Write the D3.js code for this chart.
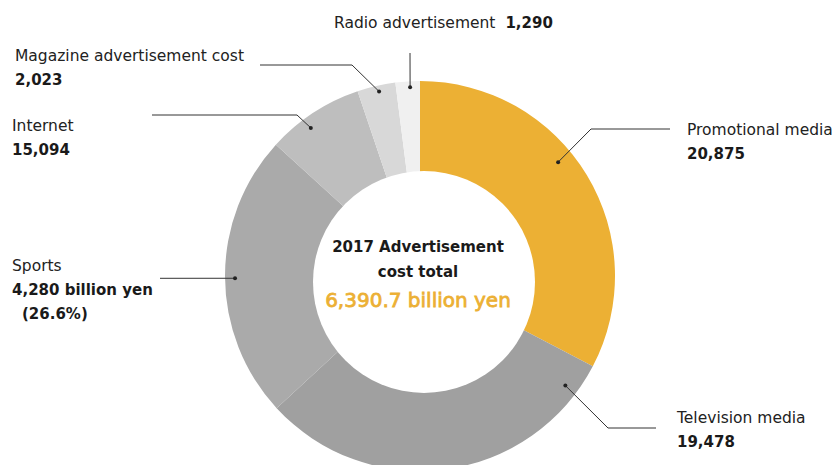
<!DOCTYPE html>
<html>
<head>
<meta charset="utf-8">
<script src="https://cdn.jsdelivr.net/npm/d3@7"></script>
<style>
  html, body { margin: 0; padding: 0; background: #fff; }
  svg { display: block; font-family: "DejaVu Sans", sans-serif; }
</style>
</head>
<body>
<svg id="chart" width="836" height="465"></svg>
<script>
// Slices, clockwise from 12 o'clock
const sliceKeys   = ["promo", "tv", "sports", "internet", "magazine", "radio"];
const sliceValues = [20875, 19478, 15094, 5147, 2023, 1290];
const sliceColors = ["#ECB034", "#A0A0A0", "#AAAAAA", "#BEBEBE", "#D8D8D8", "#F0F0F0"];

// Label text for each slice
const labelNames  = ["Promotional media", "Television media", "Sports", "Internet",
                     "Magazine advertisement cost", "Radio advertisement"];
const labelValues = ["20,875", "19,478", "4,280 billion yen", "15,094", "2,023", "1,290"];
const labelExtra  = ["", "", "(26.6%)", "", "", ""];

// Centre caption
const titleLines = ["2017 Advertisement", "cost total"];
const totalText  = "6,390.7 billion yen";

// Leader-line layout: anchor angle (deg) / radius on the ring, elbow and line end, text anchor
const leaderLayout = {
  promo:    { ang: 50.5,  r: 179, elbow: [591, 129], end: [670, 129], text: [687, 135], inline: false },
  tv:       { ang: 127.0, r: 182, elbow: [608, 428], end: [656, 428], text: [677, 423], inline: false },
  sports:   { ang: 269.3, r: 185, elbow: null,       end: [160, 278.3], text: [12, 271], inline: false },
  internet: { ang: 323.6, r: 184, elbow: [297, 115], end: [152, 115], text: [12, 131],  inline: false },
  magazine: { ang: 347.5, r: 189, elbow: [352, 65],  end: [260, 65],  text: [15, 61],   inline: false },
  radio:    { ang: 357.0, r: 189, elbow: null,       end: [410, 53],  text: [334, 28],  inline: true }
};

const svg = d3.select("#chart");
const cx = 420, cy = 276;
const outerR = 195, innerR = 100;

const pie = d3.pie().sort(null).value(d => d.value);
const arc = d3.arc().innerRadius(innerR).outerRadius(outerR);

const data = sliceKeys.map((k, i) => ({
  key: k, value: sliceValues[i], color: sliceColors[i],
  name: labelNames[i], valText: labelValues[i], extra: labelExtra[i]
}));
const arcs = pie(data);

const ring = svg.append("g").attr("transform", `translate(${cx},${cy})`);
ring.selectAll("path")
  .data(arcs)
  .join("path")
  .attr("d", arc)
  .attr("fill", d => d.data.color);

// White centre disc
svg.append("circle")
  .attr("cx", 424).attr("cy", 282).attr("r", 111)
  .attr("fill", "#fff");

// Centre caption
const cap = svg.append("g").attr("text-anchor", "middle");
titleLines.forEach((t, i) => {
  cap.append("text")
    .attr("x", 418).attr("y", 252 + i * 25)
    .attr("font-size", 15).attr("font-weight", "bold")
    .attr("fill", "#1a1a1a")
    .text(t);
});
cap.append("text")
  .attr("x", 418).attr("y", 307)
  .attr("font-size", 20)
  .attr("fill", "#ECB034").attr("stroke", "#ECB034").attr("stroke-width", 0.8)
  .text(totalText);

// Leader lines and labels
const labels = svg.append("g");
arcs.forEach(a => {
  const L = leaderLayout[a.data.key];
  const p = d3.pointRadial(L.ang * Math.PI / 180, L.r);
  const dot = [cx + p[0], cy + p[1]];
  const pts = [dot];
  if (L.elbow) pts.push(L.elbow);
  pts.push(L.end);
  labels.append("path")
    .attr("d", d3.line()(pts))
    .attr("fill", "none").attr("stroke", "#333").attr("stroke-width", 1);
  labels.append("circle")
    .attr("cx", dot[0]).attr("cy", dot[1]).attr("r", 2)
    .attr("fill", "#222");

  const [tx, ty] = L.text;
  if (L.inline) {
    const t = labels.append("text")
      .attr("x", tx).attr("y", ty)
      .attr("font-size", 15.5).attr("fill", "#222");
    t.append("tspan").text(a.data.name);
    t.append("tspan").attr("dx", 10)
      .attr("font-weight", "bold").attr("font-size", 15).attr("fill", "#1a1a1a")
      .text(a.data.valText);
  } else {
    labels.append("text")
      .attr("x", tx).attr("y", ty)
      .attr("font-size", 15.5).attr("fill", "#222")
      .text(a.data.name);
    labels.append("text")
      .attr("x", tx).attr("y", ty + 24)
      .attr("font-size", 15).attr("font-weight", "bold").attr("fill", "#1a1a1a")
      .text(a.data.valText);
    if (a.data.extra) {
      labels.append("text")
        .attr("x", tx + 10).attr("y", ty + 48)
        .attr("font-size", 15).attr("font-weight", "bold").attr("fill", "#1a1a1a")
        .text(a.data.extra);
    }
  }
});
</script>
</body>
</html>
